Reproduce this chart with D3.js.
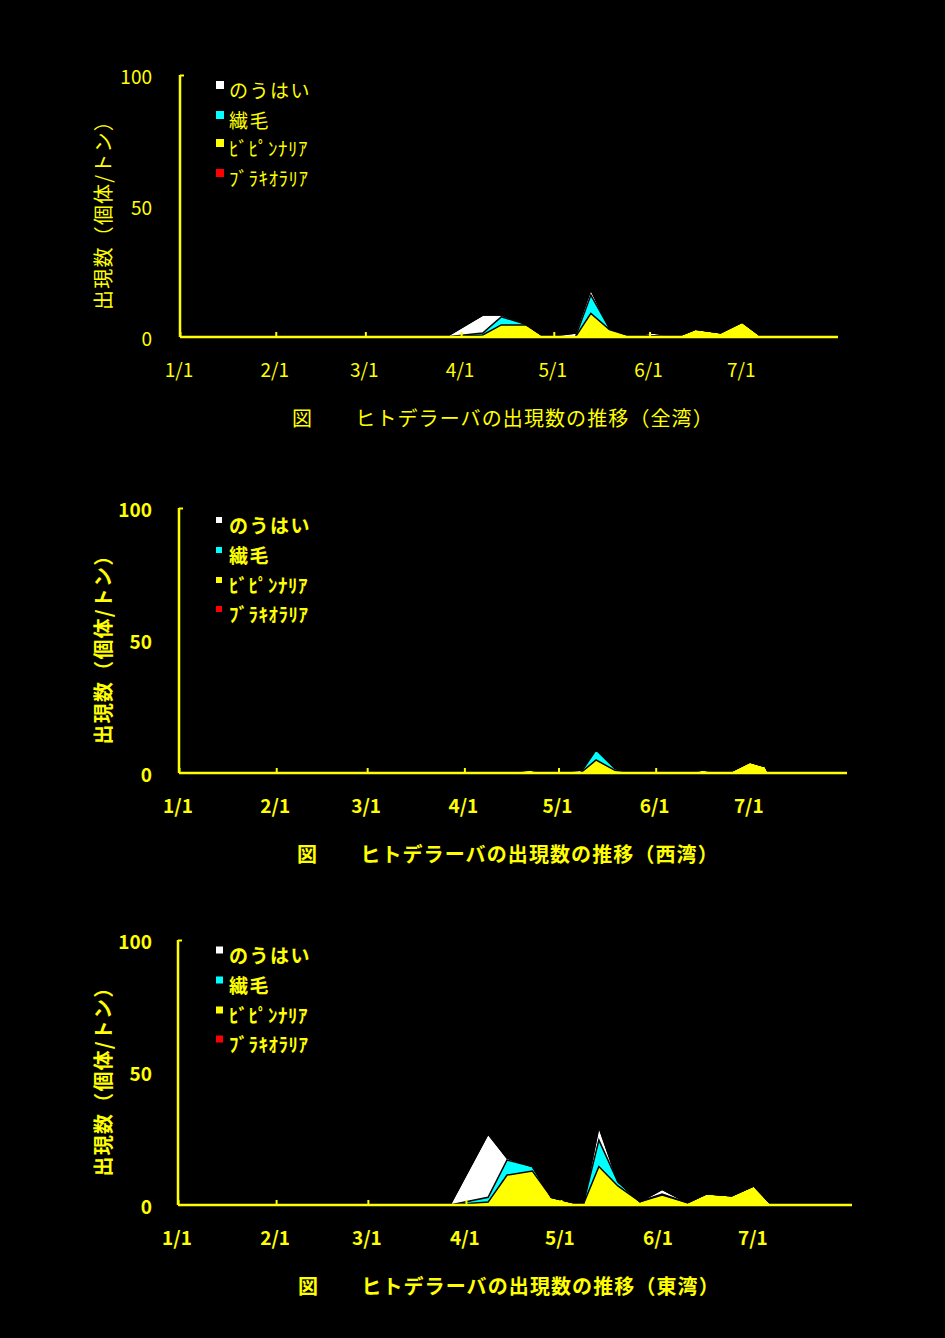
<!DOCTYPE html>
<html>
<head>
<meta charset="utf-8">
<script src="https://cdn.jsdelivr.net/npm/d3@7/dist/d3.min.js"></script>
<style>
  html, body { margin: 0; padding: 0; background: #000; }
  svg { display: block; }
</style>
</head>
<body>
<svg id="chart" width="945" height="1338"></svg>
<script>
// ---------------- DATA ----------------
const sampleDates = ["3/27","4/8","4/14","4/22","4/28","5/8","5/13","5/19","5/26","6/2","6/10","6/16","6/24","7/1","7/6","7/7"];
const seriesNames = ["のうはい", "繊毛", "ﾋﾞﾋﾟﾝﾅﾘｱ", "ﾌﾞﾗｷｵﾗﾘｱ"];
const seriesColors = ["#ffffff", "#00ffff", "#ffff00", "#ff0000"];
const xTickLabels = ["1/1","2/1","3/1","4/1","5/1","6/1","7/1"];
const yTickValues = [0, 50, 100];
const yAxisTitle = "出現数（個体/トン）";
const chartTitles = [
  "図　　ヒトデラーバの出現数の推移（全湾）",
  "図　　ヒトデラーバの出現数の推移（西湾）",
  "図　　ヒトデラーバの出現数の推移（東湾）"
];

// 全湾
const all_nouhai       = [0, 6.9, 0.7, 0, 0, 1.5, 2.1, 0,   0,   1.0, 0,   0,   0,   0,   0,   0];
const all_senmou       = [0, 0.7, 3.1, 0.3, 0, 0, 7.0, 0.6, 0,   0,   0,   0,   0,   0,   0,   0];
const all_bipinnaria   = [0, 0.8, 4.6, 4.6, 0, 0, 9.0, 2.8, 0.3, 0.5, 0.2, 3.0, 1.6, 5.7, 1.3, 0];
const all_brachiolaria = [0, 0,   0,   0,   0, 0, 0,   0,   0,   0,   0,   0,   0,   0,   0,   0];

// 西湾
const west_nouhai       = [0, 0, 0,   0,   0, 1.0, 0.3, 0,   0, 0, 0, 0,   0, 0,   0,   0];
const west_senmou       = [0, 0, 0.6, 0,   0, 0,   3.8, 0.8, 0, 0, 0, 0,   0, 0,   0,   0];
const west_bipinnaria   = [0, 0, 0,   1.1, 0, 0,   4.9, 1.0, 0, 0, 0, 1.1, 0, 4.1, 2.4, 0];
const west_brachiolaria = [0, 0, 0,   0,   0, 0,   0,   0,   0, 0, 0, 0,   0, 0,   0,   0];

// 東湾
const east_nouhai       = [0, 23.9, 0.7,  0,    0,   0, 5.0,  0,   0,   1.8, 0,   0,   0,   0,   0,   0];
const east_senmou       = [0, 1.8,  5.7,  1.7,  0,   0, 10.0, 1.6, 0,   0.3, 0,   0,   0,   0,   0,   0];
const east_bipinnaria   = [0, 1.1,  11.3, 12.8, 2.9, 0, 14.5, 7.2, 1.3, 3.8, 0.9, 4.2, 3.5, 7.2, 0.8, 0];
const east_brachiolaria = [0, 0,    0,    0,    0,   0, 0,    0,   0,   0,   0,   0,   0,   0,   0,   0];

const chartSeries = [
  [all_nouhai, all_senmou, all_bipinnaria, all_brachiolaria],
  [west_nouhai, west_senmou, west_bipinnaria, west_brachiolaria],
  [east_nouhai, east_senmou, east_bipinnaria, east_brachiolaria]
];

// ---------------- LAYOUT ----------------
const layouts = [
  { left: 180, right: 838, top: 75,  bottom: 337,  bold: false, tickLabelY: 368,  titleX: 292, titleY: 417,  legendY: [86, 116, 144, 174],   sq: 8 },
  { left: 179, right: 847, top: 508, bottom: 773,  bold: true,  tickLabelY: 804,  titleX: 297, titleY: 853,  legendY: [521, 551, 581, 610],  sq: 6 },
  { left: 178, right: 852, top: 940, bottom: 1205, bold: true,  tickLabelY: 1236, titleX: 298, titleY: 1285, legendY: [951, 981, 1011, 1040], sq: 7 }
];

const YEAR = 2004;
const parseMD = s => { const [m, d] = s.split("/").map(Number); return new Date(YEAR, m - 1, d); };
const FONT = "'Noto Sans CJK JP', 'Noto Sans', sans-serif";
const YEL = "#ffff00";

const svg = d3.select("#chart");
svg.append("rect").attr("width", 945).attr("height", 1338).attr("fill", "#000");

layouts.forEach((L, ci) => {
  const g = svg.append("g");
  const weight = L.bold ? "bold" : "normal";
  const x = d3.scaleTime()
    .domain([new Date(YEAR, 0, 1), new Date(YEAR, 7, 1)])
    .range([L.left, L.right]);
  const y = d3.scaleLinear().domain([0, 100]).range([L.bottom, L.top]);

  const arrs = chartSeries[ci];
  const rows = sampleDates.map((d, i) => {
    const r = { date: parseMD(d) };
    seriesNames.forEach((n, k) => r[n] = arrs[k][i]);
    return r;
  });
  // stack bottom -> top : ビピンナリア, 繊毛, のうはい, ブラキオラリア
  const order = [2, 1, 0, 3];
  const keys = order.map(k => seriesNames[k]);
  const stacked = d3.stack().keys(keys)(rows);

  const area = d3.area()
    .x(d => x(d.data.date))
    .y0(d => y(d[0]))
    .y1(d => y(d[1]));
  const topLine = d3.line()
    .x(d => x(d.data.date))
    .y(d => y(d[1]));

  stacked.forEach((layer, li) => {
    g.append("path")
      .attr("d", area(layer))
      .attr("fill", seriesColors[order[li]])
      .attr("stroke", "none");
  });
  stacked.forEach((layer) => {
    g.append("path")
      .attr("d", topLine(layer))
      .attr("fill", "none")
      .attr("stroke", "#000")
      .attr("stroke-width", 1.5);
  });

  // x axis
  const tickDates = xTickLabels.map(parseMD);
  const xAxis = d3.axisBottom(x)
    .tickValues(tickDates)
    .tickSize(-5)
    .tickPadding(0)
    .tickFormat(() => "");
  const xg = g.append("g").attr("transform", `translate(0,${L.bottom})`).call(xAxis);
  xg.select(".domain").attr("stroke", YEL).attr("stroke-width", 2.5).attr("d", `M${L.left},0H${L.right}`);
  xg.selectAll(".tick line").attr("stroke", YEL).attr("stroke-width", 2);

  g.selectAll(".xlab")
    .data(tickDates)
    .enter().append("text")
    .attr("x", (d) => x(d) - 1)
    .attr("y", L.tickLabelY)
    .attr("text-anchor", "middle")
    .attr("dominant-baseline", "central")
    .attr("fill", YEL)
    .attr("font-family", FONT)
    .attr("font-size", 19)
    .attr("font-weight", weight)
    .text((d, i) => xTickLabels[i]);

  // y axis
  const yAxis = d3.axisLeft(y)
    .tickValues([100])
    .tickSize(-4)
    .tickFormat(() => "");
  const yg = g.append("g").attr("transform", `translate(${L.left},0)`).call(yAxis);
  yg.select(".domain").attr("stroke", YEL).attr("stroke-width", 2.5).attr("d", `M0,${L.top}V${L.bottom}`);
  yg.selectAll(".tick line").attr("stroke", YEL).attr("stroke-width", 2);

  g.selectAll(".ylab")
    .data(yTickValues)
    .enter().append("text")
    .attr("x", 152)
    .attr("y", d => y(d))
    .attr("text-anchor", "end")
    .attr("dominant-baseline", "central")
    .attr("fill", YEL)
    .attr("font-family", FONT)
    .attr("font-size", 19)
    .attr("font-weight", weight)
    .text(d => d);

  // y axis title
  const ymid = (L.top + L.bottom) / 2 + 4;
  g.append("text")
    .attr("transform", `translate(102,${ymid}) rotate(-90)`)
    .attr("text-anchor", "middle")
    .attr("dominant-baseline", "central")
    .attr("fill", YEL)
    .attr("font-family", FONT)
    .attr("font-size", 20)
    .attr("font-weight", weight)
    .attr("letter-spacing", 1.2)
    .text(yAxisTitle);

  // legend
  seriesNames.forEach((n, k) => {
    const cy = L.legendY[k];
    g.append("rect")
      .attr("x", 216).attr("y", cy - L.sq / 2 - 1)
      .attr("width", L.sq).attr("height", L.sq)
      .attr("fill", seriesColors[k]);
    g.append("text")
      .attr("x", 229).attr("y", cy + 3)
      .attr("dominant-baseline", "central")
      .attr("fill", YEL)
      .attr("font-family", FONT)
      .attr("font-size", 19)
      .attr("font-weight", weight)
      .attr("letter-spacing", k < 2 ? 1.5 : 0.5)
      .text(n);
  });

  // title
  g.append("text")
    .attr("x", L.titleX).attr("y", L.titleY)
    .attr("dominant-baseline", "central")
    .attr("fill", YEL)
    .attr("font-family", FONT)
    .attr("font-size", 20)
    .attr("font-weight", weight)
    .attr("letter-spacing", 1.1)
    .text(chartTitles[ci]);
});
</script>
</body>
</html>
